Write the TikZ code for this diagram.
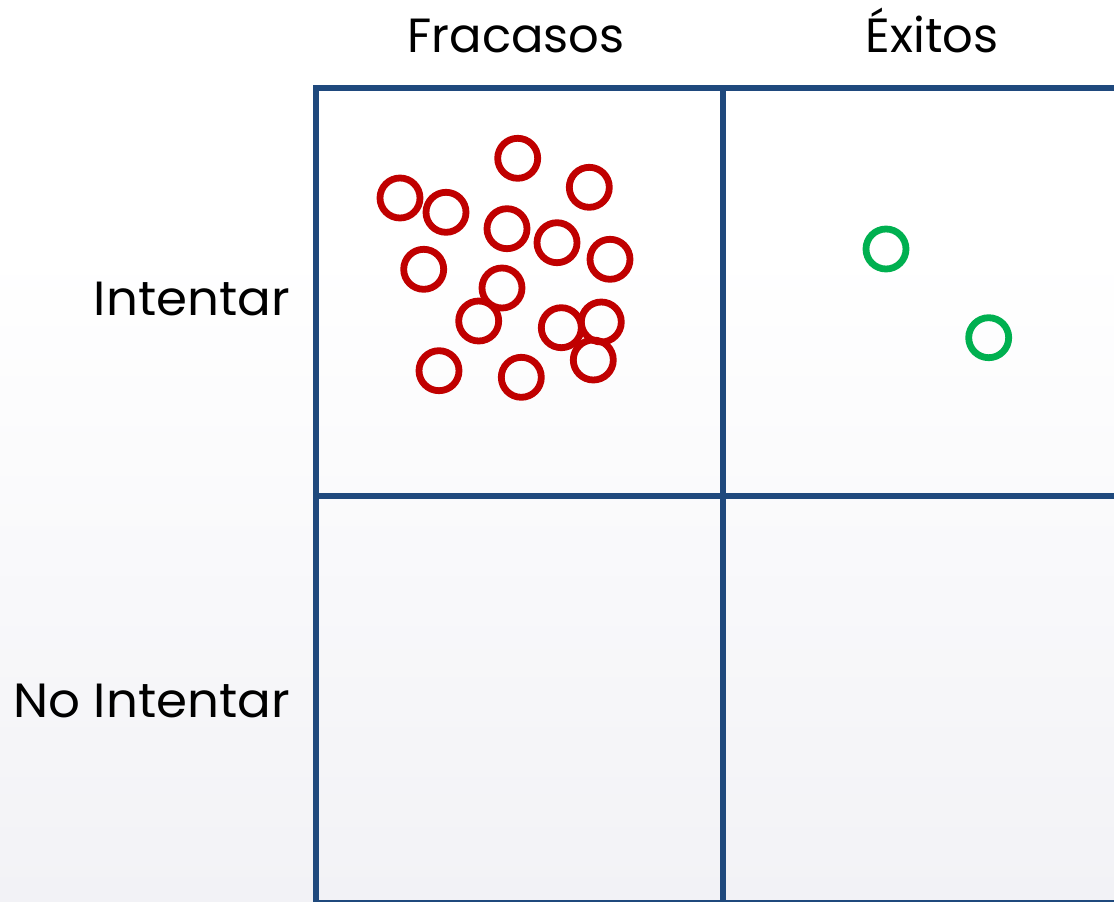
\documentclass[tikz,border=0pt]{standalone}
\usepackage{fontspec}
\setmainfont{Poppins}
\definecolor{gridblue}{HTML}{1F497D}
\definecolor{failred}{HTML}{C00000}
\definecolor{wingreen}{HTML}{00B050}
\definecolor{bgbottom}{HTML}{F2F2F6}
\begin{document}
\begin{tikzpicture}[x=1pt,y=-1pt,
  gridline/.style={draw=gridblue,line width=6pt},
  ring/.style={circle,inner sep=0pt,minimum size=40pt,line width=6.8pt,fill=none},
  fail/.style={ring,draw=failred},
  win/.style={ring,draw=wingreen},
  label/.style={font=\fontsize{48}{50}\selectfont,text=black,inner sep=0pt}]
\useasboundingbox (0,0) rectangle (1114,902);
\clip (0,0) rectangle (1114,902);
\fill[white] (0,0) rectangle (1114,902);
\shade[top color=white,bottom color=bgbottom] (0,250) rectangle (1114,902);
% grid
\draw[gridline] (315.5,88) rectangle (1131,903);
\draw[gridline] (723,88) -- (723,903);
\draw[gridline] (315.5,495.5) -- (1131,495.5);
% labels
\node[label,anchor=base] (fr) at (516,52) {Fracasos};
\node[label,anchor=base] (ex) at (932,52) {Éxitos};
\node[label,anchor=base east,xscale=1.04] (in) at (290,315) {Intentar};
\node[label,anchor=base east,xscale=1.04] (ni) at (290,717) {No Intentar};
% failures
\node[fail] (r1) at (517.7,158.3) {};
\node[fail] (r2) at (589.3,187.3) {};
\node[fail] (r3) at (400,198) {};
\node[fail] (r4) at (446,212.3) {};
\node[fail] (r5) at (507,228.7) {};
\node[fail] (r6) at (557,242.7) {};
\node[fail] (r7) at (610,259.3) {};
\node[fail] (r8) at (423.7,269.3) {};
\node[fail] (r9) at (502,288) {};
\node[fail] (r10) at (478.7,321) {};
\node[fail] (r11) at (561.3,327.7) {};
\node[fail] (r12) at (601.3,322) {};
\node[fail] (r13) at (593.3,360) {};
\node[fail] (r14) at (439,370.7) {};
\node[fail] (r15) at (521.3,377.3) {};
% successes
\node[win] (g1) at (886,249) {};
\node[win] (g2) at (988.7,337.7) {};
\end{tikzpicture}
\end{document}
